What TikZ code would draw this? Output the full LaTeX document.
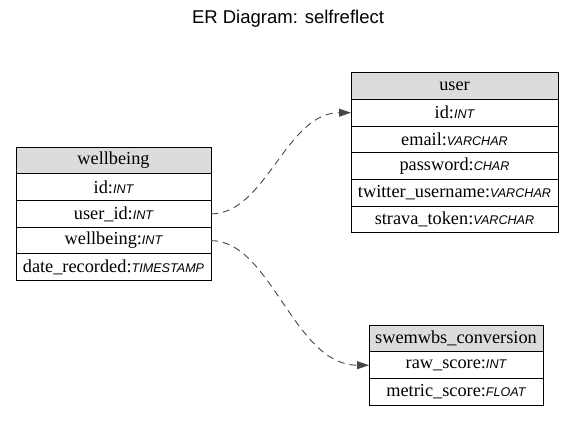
\documentclass[tikz,border=0pt]{standalone}
\usepackage{fontspec}
\setmainfont{Liberation Serif}
\setsansfont{Liberation Sans}
\usepackage{tikz}
\usetikzlibrary{positioning}
\usetikzlibrary{arrows.meta}
\definecolor{headgray}{RGB}{220,220,220}
\definecolor{edgegray}{RGB}{70,70,70}
\tikzstyle{field} = [rectangle, draw, line width=1pt, outer sep=0pt, inner sep=0pt,
    minimum height=26.7pt, text centered, font=\fontsize{18.3}{20}\selectfont]
\tikzstyle{tablehead} = [field, fill=headgray]
\tikzstyle{relation} = [draw, edgegray, line width=0.9pt, dash pattern=on 7pt off 5pt,
    -{Triangle[length=12pt,width=8pt]}]
\newcommand{\sqltype}[1]{{\sffamily\itshape\fontsize{12.6}{14}\selectfont #1}}

\begin{document}
\begin{tikzpicture}[x=1pt,y=1pt]
    \useasboundingbox (0,0) rectangle (575,-435);
    \node (title) at (288,-19) {\sffamily\fontsize{18.5}{20}\selectfont ER Diagram: selfreflect};
    % wellbeing table
    \node [tablehead, minimum width=195pt] (wellbeing) at (113.5,-160.5) {wellbeing};
    \node [field, minimum width=195pt, below=0pt of wellbeing] (wb_id) {id:\sqltype{INT}};
    \node [field, minimum width=195pt, below=0pt of wb_id] (wb_user) {user\_id:\sqltype{INT}};
    \node [field, minimum width=195pt, below=0pt of wb_user] (wb_value) {wellbeing:\sqltype{INT}};
    \node [field, minimum width=195pt, below=0pt of wb_value] (wb_date) {date\_recorded:\sqltype{TIMESTAMP}};
    % user table
    \node [tablehead, minimum width=207pt] (user) at (454.5,-86) {user};
    \node [field, minimum width=207pt, below=0pt of user] (user_id) {id:\sqltype{INT}};
    \node [field, minimum width=207pt, below=0pt of user_id] (user_email) {email:\sqltype{VARCHAR}};
    \node [field, minimum width=207pt, below=0pt of user_email] (user_pass) {password:\sqltype{CHAR}};
    \node [field, minimum width=207pt, below=0pt of user_pass] (user_twitter) {twitter\_username:\sqltype{VARCHAR}};
    \node [field, minimum width=207pt, below=0pt of user_twitter] (user_strava) {strava\_token:\sqltype{VARCHAR}};
    % swemwbs_conversion table
    \node [tablehead, minimum width=174pt] (swemwbs) at (456,-338.5) {swemwbs\_conversion};
    \node [field, minimum width=174pt, below=0pt of swemwbs] (sw_raw) {raw\_score:\sqltype{INT}};
    \node [field, minimum width=174pt, below=0pt of sw_raw] (sw_metric) {metric\_score:\sqltype{FLOAT}};
    % Draw relations
    \path [relation] (wb_user.east) .. controls +(55,0) and +(-65,0) .. (user_id.west);
    \path [relation] (wb_value.east) .. controls +(60,0) and +(-75,0) .. (sw_raw.west);
\end{tikzpicture}
\end{document}
